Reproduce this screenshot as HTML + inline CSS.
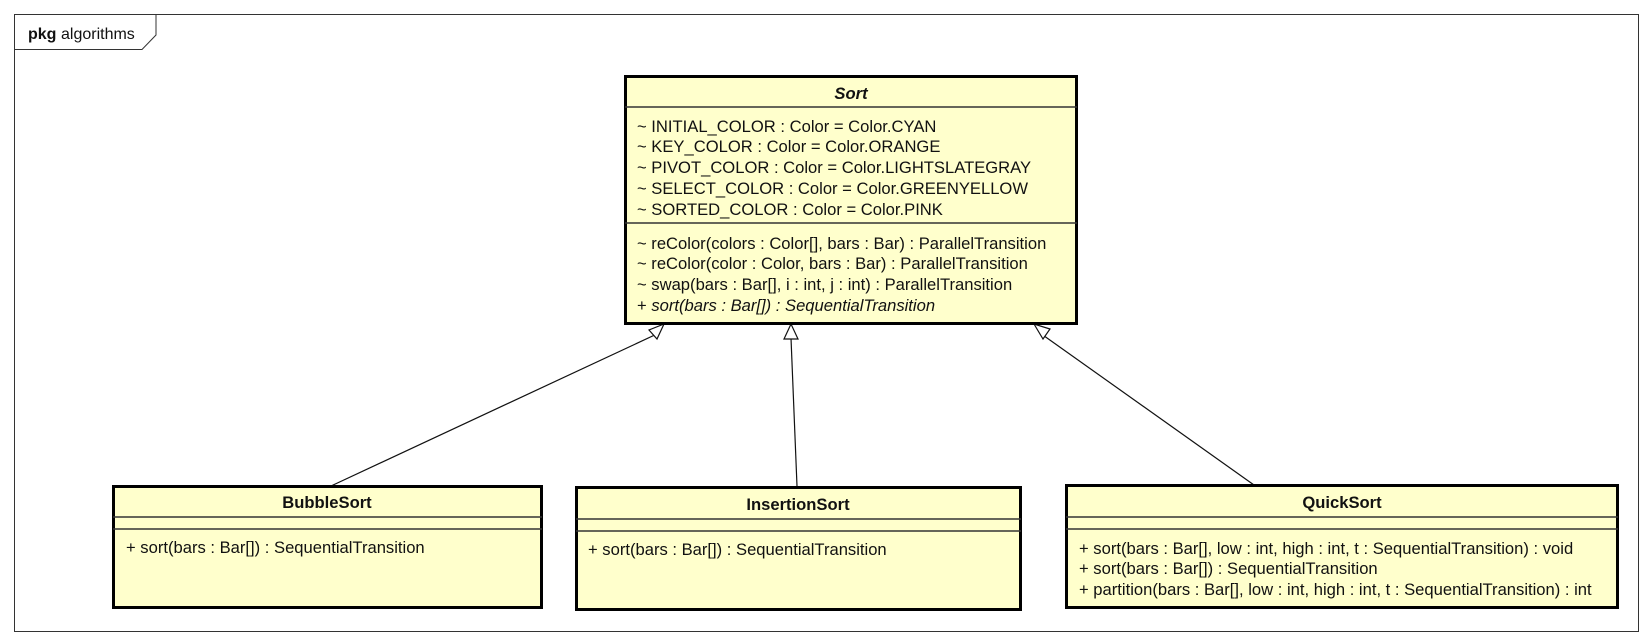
<!DOCTYPE html>
<html><head><meta charset="utf-8"><style>
html,body{margin:0;padding:0;background:#fff;}
svg{display:block;}
text{font-family:"Liberation Sans",Arial,sans-serif;font-size:16.6px;fill:#111;}
.b{font-weight:bold;}
</style></head><body>
<svg width="1652" height="644" viewBox="0 0 1652 644" xmlns="http://www.w3.org/2000/svg">
<rect x="14.5" y="14.5" width="1624" height="617" fill="#fff" stroke="#333" stroke-width="1"/>
<path d="M14.5 49.5 H142 L156 35 V14.5" fill="none" stroke="#333" stroke-width="1"/>
<text x="28" y="39" class="b" style="font-size:16px">pkg</text><text x="61" y="39" style="font-size:16px">algorithms</text>

<!-- connectors -->
<g stroke="#111" stroke-width="1.2" fill="none">
<line x1="331" y1="486" x2="659" y2="333"/>
<line x1="797" y1="486" x2="791" y2="338"/>
<line x1="1254" y1="485" x2="1040" y2="333"/>
</g>
<g stroke="#111" stroke-width="1.2" fill="#fff">
<polygon points="664,324 649,330 657,339"/>
<polygon points="791,324 784,339 798,339"/>
<polygon points="1034,324 1043,339 1050,329"/>
</g>

<!-- Sort -->
<rect x="625.5" y="76.5" width="451" height="247" fill="#ffffcc" stroke="#000" stroke-width="3"/>
<line x1="625" y1="107" x2="1077" y2="107" stroke="#333" stroke-width="1.5"/>
<line x1="625" y1="223" x2="1077" y2="223" stroke="#333" stroke-width="1.5"/>
<text x="851" y="99" text-anchor="middle" class="b" font-style="italic">Sort</text>
<text x="637" y="132">~ INITIAL_COLOR : Color = Color.CYAN</text>
<text x="637" y="152">~ KEY_COLOR : Color = Color.ORANGE</text>
<text x="637" y="173">~ PIVOT_COLOR : Color = Color.LIGHTSLATEGRAY</text>
<text x="637" y="194">~ SELECT_COLOR : Color = Color.GREENYELLOW</text>
<text x="637" y="215">~ SORTED_COLOR : Color = Color.PINK</text>
<text x="637" y="249">~ reColor(colors : Color[], bars : Bar) : ParallelTransition</text>
<text x="637" y="269">~ reColor(color : Color, bars : Bar) : ParallelTransition</text>
<text x="637" y="290">~ swap(bars : Bar[], i : int, j : int) : ParallelTransition</text>
<text x="637" y="311">+ <tspan font-style="italic">sort(bars : Bar[]) : SequentialTransition</tspan></text>

<!-- BubbleSort -->
<rect x="113.5" y="486.5" width="428" height="121" fill="#ffffcc" stroke="#000" stroke-width="3"/>
<line x1="113" y1="517" x2="542" y2="517" stroke="#333" stroke-width="1.5"/>
<line x1="113" y1="529" x2="542" y2="529" stroke="#333" stroke-width="1.5"/>
<text x="327" y="508" text-anchor="middle" class="b">BubbleSort</text>
<text x="126" y="553">+ sort(bars : Bar[]) : SequentialTransition</text>

<!-- InsertionSort -->
<rect x="576.5" y="487.5" width="444" height="122" fill="#ffffcc" stroke="#000" stroke-width="3"/>
<line x1="576" y1="519" x2="1021" y2="519" stroke="#333" stroke-width="1.5"/>
<line x1="576" y1="531" x2="1021" y2="531" stroke="#333" stroke-width="1.5"/>
<text x="798" y="510" text-anchor="middle" class="b">InsertionSort</text>
<text x="588" y="555">+ sort(bars : Bar[]) : SequentialTransition</text>

<!-- QuickSort -->
<rect x="1066.5" y="485.5" width="551" height="122" fill="#ffffcc" stroke="#000" stroke-width="3"/>
<line x1="1066" y1="517" x2="1618" y2="517" stroke="#333" stroke-width="1.5"/>
<line x1="1066" y1="529" x2="1618" y2="529" stroke="#333" stroke-width="1.5"/>
<text x="1342" y="508" text-anchor="middle" class="b">QuickSort</text>
<text x="1079" y="554">+ sort(bars : Bar[], low : int, high : int, t : SequentialTransition) : void</text>
<text x="1079" y="574">+ sort(bars : Bar[]) : SequentialTransition</text>
<text x="1079" y="595">+ partition(bars : Bar[], low : int, high : int, t : SequentialTransition) : int</text>
</svg>
</body></html>
